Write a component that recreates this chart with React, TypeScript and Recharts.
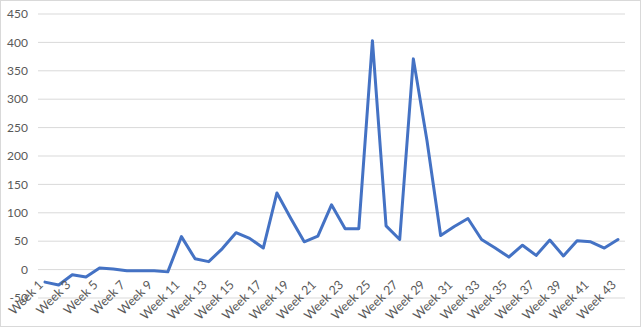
import { ComposedChart, Line, XAxis, YAxis, CartesianGrid } from 'recharts';

const weeks = Array.from({ length: 43 }, (_, i) => `Week ${i + 1}`);

const counts = [
  -22, -27, -9, -13, 3, 1, -2, -2, -2, -4,
  58, 19, 14, 37, 65, 55, 38, 135, 91, 49,
  59, 114, 72, 72, 403, 77, 53, 371, 227, 60,
  76, 90, 53, 38, 22, 43, 25, 52, 24, 51,
  49, 38, 53,
];

const yTicks = [-50, 0, 50, 100, 150, 200, 250, 300, 350, 400, 450];

const chartData = weeks.map((week, i) => ({ week, value: counts[i] }));

const W = 641;
const H = 327;
const MARGIN = { top: 14, right: 16, left: 0, bottom: 0 };
const X_AXIS_H = 29;
const PLOT_H = H - MARGIN.top - MARGIN.bottom - X_AXIS_H;
// Excel puts the category labels under the 0 line, not under the plot
const ZERO_SHIFT = (PLOT_H * 50) / 500;

const FONT = 'Lato, "Open Sans", sans-serif';

const WeekTick = (props: any) => {
  const { x, y, payload } = props;
  return (
    <g transform={`translate(${x - 1},${y - ZERO_SHIFT + 16}) rotate(-45)`}>
      <text x={0} y={0} textAnchor="end" fill="#595959" fontSize={12.5} fontFamily={FONT}>
        {payload.value}
      </text>
    </g>
  );
};

export default function App() {
  return (
    <div
      style={{
        position: 'fixed',
        top: 0,
        left: 0,
        width: W,
        height: H,
        boxSizing: 'border-box',
        border: '1px solid #d9d9d9',
        background: '#fff',
      }}
    >
      <div style={{ position: 'absolute', top: -1, left: -1 }}>
        <ComposedChart width={W} height={H} data={chartData} margin={MARGIN}>
          <CartesianGrid vertical={false} stroke="#d9d9d9" strokeWidth={1} />
          <XAxis
            dataKey="week"
            height={X_AXIS_H}
            axisLine={false}
            tickLine={false}
            tickSize={0}
            tickMargin={0}
            interval={1}
            padding={{ left: 7, right: 7 }}
            tick={<WeekTick />}
          />
          <YAxis
            width={38}
            domain={[-50, 450]}
            ticks={yTicks}
            axisLine={false}
            tickLine={false}
            tickMargin={4}
            tick={{ fill: '#595959', fontSize: 12, fontFamily: FONT }}
          />
          <Line
            type="linear"
            dataKey="value"
            stroke="#4472c4"
            strokeWidth={3}
            strokeLinejoin="round"
            strokeLinecap="round"
            dot={false}
            activeDot={false}
            isAnimationActive={false}
          />
        </ComposedChart>
      </div>
    </div>
  );
}
